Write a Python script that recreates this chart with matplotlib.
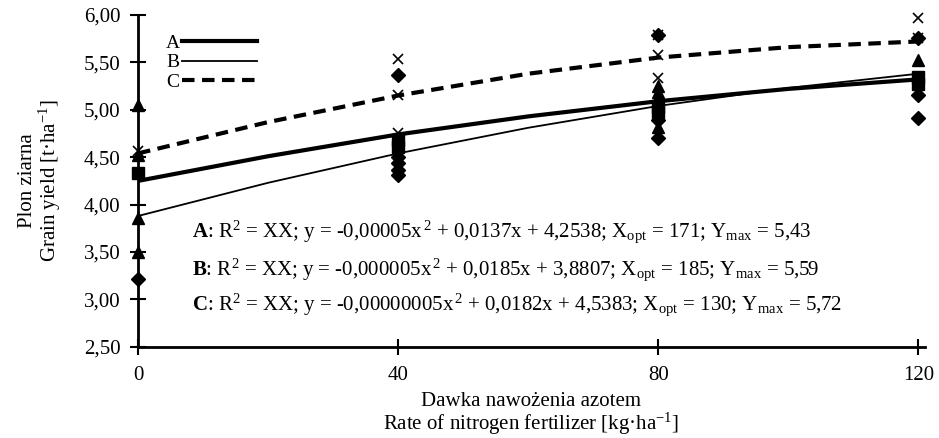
import numpy as np
import matplotlib
matplotlib.use('Agg')
import matplotlib.pyplot as plt

plt.rcParams['font.family'] = ['Liberation Serif', 'DejaVu Serif']
plt.rcParams['mathtext.fontset'] = 'custom'
plt.rcParams['mathtext.rm'] = 'Liberation Serif'
plt.rcParams['mathtext.it'] = 'Liberation Serif:italic'
plt.rcParams['mathtext.bf'] = 'Liberation Serif:bold'

# ── Data ──────────────────────────────────────────────────────────────────────
rates = [0, 40, 80, 120]

# trend curves at 20 kg/ha steps
curve_x = [0, 20, 40, 60, 80, 100, 120]
curve_a = [4.25, 4.51, 4.74, 4.93, 5.09, 5.22, 5.32]
curve_b = [3.88, 4.23, 4.54, 4.81, 5.04, 5.23, 5.38]
curve_c = [4.54, 4.87, 5.15, 5.38, 5.55, 5.66, 5.72]

# observed points
diam_x = [0, 40, 40, 40, 40, 40, 80, 80, 80, 120, 120, 120]
diam_y = [3.22, 5.37, 4.50, 4.44, 4.37, 4.31, 5.79, 4.89, 4.70, 5.76, 5.16, 4.91]
sq_x = [0, 40, 40, 80, 80, 120, 120]
sq_y = [4.33, 4.68, 4.61, 5.03, 4.98, 5.35, 5.27]
tri_x = [0, 0, 0, 0, 80, 80, 80, 80, 120]
tri_y = [5.05, 4.52, 3.86, 3.50, 5.25, 5.19, 5.13, 4.82, 5.52]
cross_x = [0, 40, 40, 40, 80, 80, 80, 120, 120]
cross_y = [4.57, 5.53, 5.16, 4.76, 5.79, 5.58, 5.33, 5.97, 5.76]

eq_lines = [
    r"$\mathbf{A}$: R$^2$ = XX; y = -0,00005x$^{\,2}$ + 0,0137x + 4,2538; X$_{\rm opt}$ = 171; Y$_{\rm max}$ = 5,43",
    r"$\mathbf{B}$: R$^2$ = XX; y = -0,000005x$^{\,2}$ + 0,0185x + 3,8807; X$_{\rm opt}$ = 185; Y$_{\rm max}$ = 5,59",
    r"$\mathbf{C}$: R$^2$ = XX; y = -0,00000005x$^{\,2}$ + 0,0182x + 4,5383; X$_{\rm opt}$ = 130; Y$_{\rm max}$ = 5,72",
]
eq_y = [3.72, 3.31, 2.95]

# ── Figure ────────────────────────────────────────────────────────────────────
fig = plt.figure(figsize=(9.39, 4.38), dpi=100)
ax = fig.add_axes([0.147, 0.208, 0.838, 0.758])

mk = dict(color='black', ls='none', clip_on=False, zorder=3)
ax.plot(diam_x, diam_y, marker='D', ms=7, **mk)
ax.plot(sq_x, sq_y, marker='s', ms=8, **mk)
ax.plot(tri_x, tri_y, marker='^', ms=8, **mk)
ax.plot(cross_x, cross_y, marker='x', ms=7, mew=1.2, **mk)

la, = ax.plot(curve_x, curve_a, color='black', lw=3.0, zorder=4)
lb, = ax.plot(curve_x, curve_b, color='black', lw=1.3, zorder=4)
lc, = ax.plot(curve_x, curve_c, color='black', lw=3.0, ls=(0, (3, 1.8)), zorder=4)

ax.legend([la, lb, lc], ['A', 'B', 'C'], loc='upper left',
          bbox_to_anchor=(0.025, 0.965), frameon=False, markerfirst=False,
          handlelength=3.9, handletextpad=0.1, labelspacing=0.1,
          fontsize=14, borderaxespad=0)

for txt, yy in zip(eq_lines, eq_y):
    ax.text(8.3, yy, txt, fontsize=15, va='center', ha='left')

ax.set_xlim(0, 121)
ax.set_ylim(2.5, 6.0)
ax.set_xticks(rates)
yt = np.arange(2.5, 6.01, 0.5)
ax.set_yticks(yt)
ax.set_yticklabels([f'{v:.2f}'.replace('.', ',') for v in yt])
ax.tick_params(direction='inout', length=11, width=1.5, labelsize=15)
ax.tick_params(axis='y', pad=7)
ax.tick_params(axis='x', pad=8)
for s in ['top', 'right']:
    ax.spines[s].set_visible(False)
for s in ['left', 'bottom']:
    ax.spines[s].set_linewidth(2)

ax.set_xlabel('Dawka nawożenia azotem\nRate of nitrogen fertilizer [kg·ha$^{-1}$]',
              fontsize=15, linespacing=1.0, labelpad=5)
ax.set_ylabel('Plon ziarna\nGrain yield [t·ha$^{-1}$]', fontsize=15,
              linespacing=1.0, labelpad=15)

fig.savefig('out.png', dpi=100)
